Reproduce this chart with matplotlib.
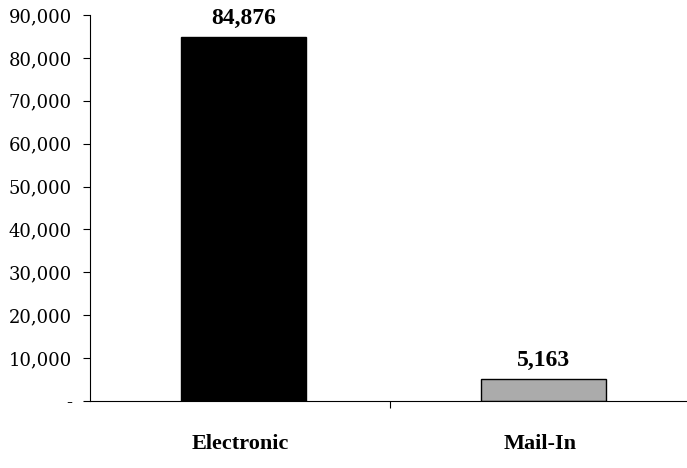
import matplotlib.pyplot as plt
from matplotlib.ticker import FuncFormatter

categories = ["Electronic", "Mail-In"]
values = [84876, 5163]
bar_colors = ["black", "#ababab"]

plt.rcParams['font.family'] = ['Liberation Serif', 'DejaVu Serif']

fig = plt.figure(figsize=(6.87, 4.68), dpi=100)
ax = fig.add_axes([0.131, 0.143, 0.869, 0.825])

pos = [0.512, 1.512]
bars = ax.bar(pos, values, width=0.415, color=bar_colors, edgecolor="black", linewidth=1)

for b, v in zip(bars, values):
    ax.text(b.get_x() + b.get_width() / 2, v + 1800, f"{v:,}", ha="center", va="bottom",
            fontsize=17, fontweight="bold")

ax.set_xlim(0, 1.99)
ax.set_ylim(0, 90000)
ax.set_yticks(range(0, 90001, 10000))
ax.yaxis.set_major_formatter(FuncFormatter(lambda y, _: "-" if y == 0 else f"{int(y):,}"))
for lbl in ax.get_yticklabels():
    lbl.set_family("DejaVu Serif")
ax.set_xticks([1])
ax.set_xticklabels([""])
for p, c in zip(pos, categories):
    ax.text(p - 0.01, -0.085, c, transform=ax.get_xaxis_transform(), ha="center", va="top",
            fontsize=16, fontweight="bold")

ax.tick_params(axis="y", labelsize=13, length=5, pad=8)
ax.tick_params(axis="x", length=5)
ax.spines["top"].set_visible(False)
ax.spines["right"].set_visible(False)

fig.savefig("out.png", dpi=100)
